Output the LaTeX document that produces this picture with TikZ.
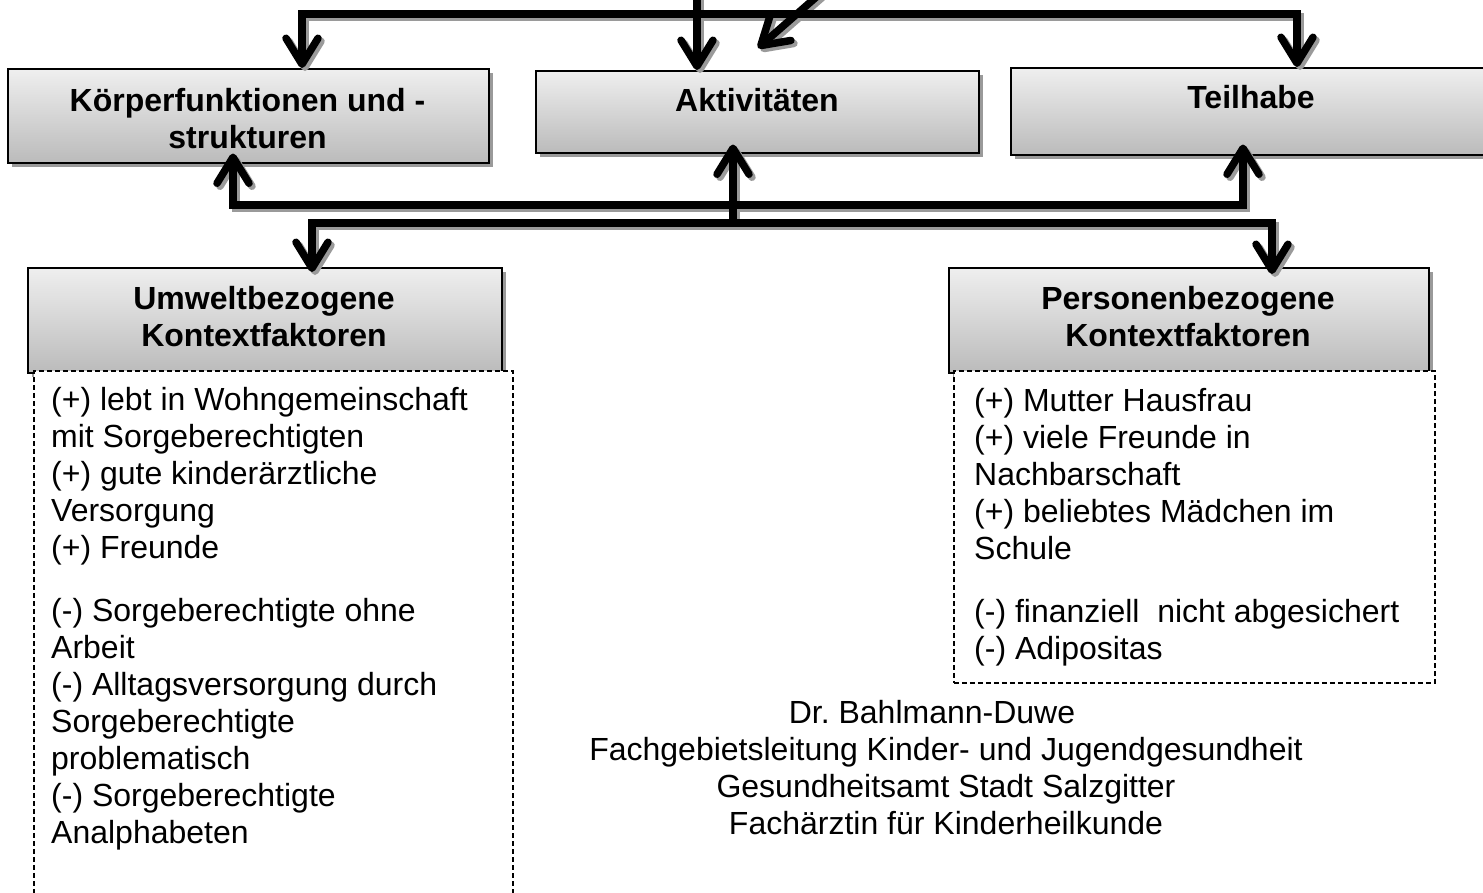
\documentclass[tikz,border=0pt]{standalone}
\usepackage{fontspec}
\setmainfont{Liberation Sans}
\usetikzlibrary{arrows.meta,shadows,calc}
\definecolor{shadowgray}{HTML}{9A9A9A}
\definecolor{boxtop}{HTML}{EFEFEF}
\definecolor{boxbot}{HTML}{BBBBBB}
\newcommand{\drawConnectors}{%
  \draw[arr] (tm) -- (tm |- akt.north);
  \draw[arr] (tj) -- (tl) -- (tl |- kf.north);
  \draw[arr] (tj) -- (tr) -- (tr |- teil.north);
  \draw[arr] (ds) -- (de);
  \draw[arr] (b1r) -- (b1l) -- ([yshift=10pt]b1l |- kf.south);
  \draw[arr] (b1l) -- (b1r) -- ([yshift=11pt]b1r |- teil.south);
  \draw[arr] (b2m) -- ([yshift=9pt]b2m |- akt.south);
  \draw[arr] (b2r) -- (b2l) -- ([yshift=-5pt]b2l |- umw.north);
  \draw[arr] (b2l) -- (b2r) -- ([yshift=-7pt]b2r |- pers.north);
}
\begin{document}
\begin{tikzpicture}[x=1pt,y=-1pt,
  hdr/.style={draw=black, line width=1.5pt, top color=boxtop, bottom color=boxbot,
    inner sep=0pt, anchor=north west,
    drop shadow={shadow xshift=4pt,shadow yshift=-4pt,fill=shadowgray,opacity=1}},
  hdtext/.style={font=\bfseries\fontsize{32pt}{37pt}\selectfont, align=center, anchor=base, inner sep=0pt},
  txtbox/.style={draw=black, line width=1.6pt, dash pattern=on 5pt off 3pt, fill=white,
    inner sep=0pt, anchor=north west},
  bodytext/.style={font=\fontsize{32pt}{37pt}\selectfont, align=left, anchor=base west, inner sep=0pt},
  arr/.style={line width=7.5pt, draw=black,
    -{Straight Barb[length=26pt,width=32pt,line cap=round,line join=round]}}
]
\useasboundingbox (0,0) rectangle (1483,892);
\begin{scope}
\clip (0,0) rectangle (1483,892);

% header boxes
\node[hdr, minimum width=481pt, minimum height=94pt] (kf) at (7,68) {};
\node[hdr, minimum width=443pt, minimum height=82pt] (akt) at (535,70) {};
\node[hdr, minimum width=482pt, minimum height=87pt] (teil) at (1010,67) {};
\node[hdr, minimum width=474pt, minimum height=105pt] (umw) at (27,267) {};
\node[hdr, minimum width=480pt, minimum height=105pt] (pers) at (948,267) {};

% (base anchor of a multi-line node = baseline of its last line)
\node[hdtext] (kft) at (247.5,148.5) {Körperfunktionen und -\\strukturen};
\node[hdtext] (aktt) at (757,111.5) {Aktivitäten};
\node[hdtext] (teilt) at (1251,108.5) {Teilhabe};
\node[hdtext] (umwt) at (264,346.5) {Umweltbezogene\\Kontextfaktoren};
\node[hdtext] (perst) at (1188,346.5) {Personenbezogene\\Kontextfaktoren};

% dashed text boxes
\node[txtbox, minimum width=479pt, minimum height=540pt] (umwbox) at (33,370) {};
\node[txtbox, minimum width=481pt, minimum height=312pt] (persbox) at (953,370) {};

\node[bodytext] (umwtxt) at (51,843) {(+) lebt in Wohngemeinschaft\\mit Sorgeberechtigten\\(+) gute kinderärztliche\\Versorgung\\(+) Freunde\\[26pt](-) Sorgeberechtigte ohne\\Arbeit\\(-) Alltagsversorgung durch\\Sorgeberechtigte\\problematisch\\(-) Sorgeberechtigte\\Analphabeten};
\node[bodytext] (perstxt) at (974,659) {(+) Mutter Hausfrau\\(+) viele Freunde in\\Nachbarschaft\\(+) beliebtes Mädchen im\\Schule\\[26pt](-) finanziell\ \ nicht abgesichert\\(-) Adipositas};

\node[font=\fontsize{32pt}{37pt}\selectfont, align=center, anchor=base, inner sep=0pt] (footer) at (946,834)
  {Dr.\ Bahlmann-Duwe\hspace*{28pt}\\Fachgebietsleitung Kinder- und Jugendgesundheit\\Gesundheitsamt Stadt Salzgitter\\Fachärztin für Kinderheilkunde};

% connector coordinates
\coordinate (tm) at (697,-5);
\coordinate (tj) at (697,14);
\coordinate (tl) at (302,14);
\coordinate (tr) at (1297,14);
\coordinate (ds) at (830,-15);
\coordinate (de) at (758,48);
\coordinate (b1l) at (233,205);
\coordinate (b1r) at (1243,205);
\coordinate (b2l) at (312,223);
\coordinate (b2r) at (1272,223);
\coordinate (b2m) at (733,223);

\begin{scope}[transform canvas={xshift=3pt,yshift=-3pt}]
  \tikzset{arr/.append style={draw=shadowgray}}
  \drawConnectors
\end{scope}
\drawConnectors
\end{scope}
\end{tikzpicture}
\end{document}
